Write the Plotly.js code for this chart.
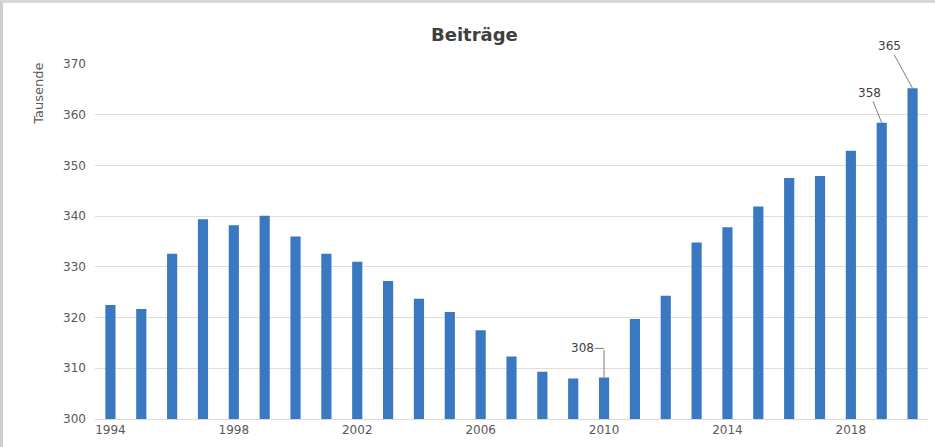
<!DOCTYPE html>
<html>
<head>
<meta charset="utf-8">
<script src="https://cdn.plot.ly/plotly-3.0.1.min.js"></script>
<style>
html,body{margin:0;padding:0;background:#fff;}
#chart{width:935px;height:447px;box-sizing:border-box;border-left:3px solid #cfcfcf;border-top:3px solid #d8d8d8;}
</style>
</head>
<body>
<div id="chart"></div>
<script>
const years = [1994,1995,1996,1997,1998,1999,2000,2001,2002,2003,2004,2005,2006,2007,2008,2009,2010,2011,2012,2013,2014,2015,2016,2017,2018,2019,2020];
const beitraege = [322.5,321.7,332.6,339.4,338.2,340.1,336.0,332.6,331.0,327.2,323.7,321.1,317.5,312.3,309.3,308.0,308.2,319.7,324.3,334.8,337.8,341.9,347.5,347.9,352.9,358.4,365.2];
const tickYears = [1994,1998,2002,2006,2010,2014,2018];
const labelled = [{x:2019, text:'358'},{x:2020, text:'365'}];
const lowLabel = {x:2010, text:'308'};

const font = "'DejaVu Sans', 'Open Sans', sans-serif";
const idx = y => years.indexOf(y);

const annotations = [
  {xref:'paper', yref:'paper', x:0.455, y:1, yanchor:'bottom', yshift:17, showarrow:false, text:'<b>Beiträge</b>', font:{size:18, color:'#404040', family:font}},
  {xref:'paper', yref:'paper', x:-0.068, y:1.01, xanchor:'center', yanchor:'top', textangle:-90, showarrow:false, text:'Tausende', font:{size:13, color:'#595959', family:font}},
  {x:labelled[0].x, y:beitraege[idx(labelled[0].x)], text:labelled[0].text, showarrow:true, arrowhead:0, arrowwidth:1, arrowcolor:'#7f7f7f', ax:-12, ay:-30, font:{size:12,color:'#404040',family:font}},
  {x:labelled[1].x, y:beitraege[idx(labelled[1].x)], text:labelled[1].text, showarrow:true, arrowhead:0, arrowwidth:1, arrowcolor:'#7f7f7f', ax:-23, ay:-42, font:{size:12,color:'#404040',family:font}},
  {x:lowLabel.x, y:beitraege[idx(lowLabel.x)], text:'', showarrow:true, arrowhead:0, arrowwidth:1, arrowcolor:'#7f7f7f', ax:0, ay:-29},
  {x:lowLabel.x, y:beitraege[idx(lowLabel.x)], yshift:29, text:lowLabel.text, showarrow:true, arrowhead:0, arrowwidth:1, arrowcolor:'#7f7f7f', ax:-22, ay:0, font:{size:12,color:'#404040',family:font}}
];

const data = [{
  type:'bar', x:years, y:beitraege,
  marker:{color:'#3a79c1'},
  hoverinfo:'x+y'
}];

const layout = {
  width:932, height:444,
  margin:{l:92, r:7, t:61, b:28},
  paper_bgcolor:'#ffffff', plot_bgcolor:'#ffffff',
  bargap:0.67,
  showlegend:false,
  font:{family:font, color:'#595959', size:12},
  xaxis:{
    range:[1993.5,2020.5],
    tickmode:'array', tickvals:tickYears, ticktext:tickYears.map(String),
    showgrid:false, zeroline:false,
    showline:true, linecolor:'#d9d9d9', linewidth:1,
    ticks:'', tickfont:{size:12, color:'#595959', family:font}
  },
  yaxis:{
    range:[300,370], dtick:10, tick0:300,
    showgrid:true, gridcolor:'#e3dcd8', gridwidth:1,
    zeroline:false, showline:false, ticks:'',
    tickfont:{size:12, color:'#595959', family:font},
    ticklabelstandoff:8
  },
  annotations:annotations
};

Plotly.newPlot('chart', data, layout, {displayModeBar:false, staticPlot:true});
</script>
</body>
</html>
